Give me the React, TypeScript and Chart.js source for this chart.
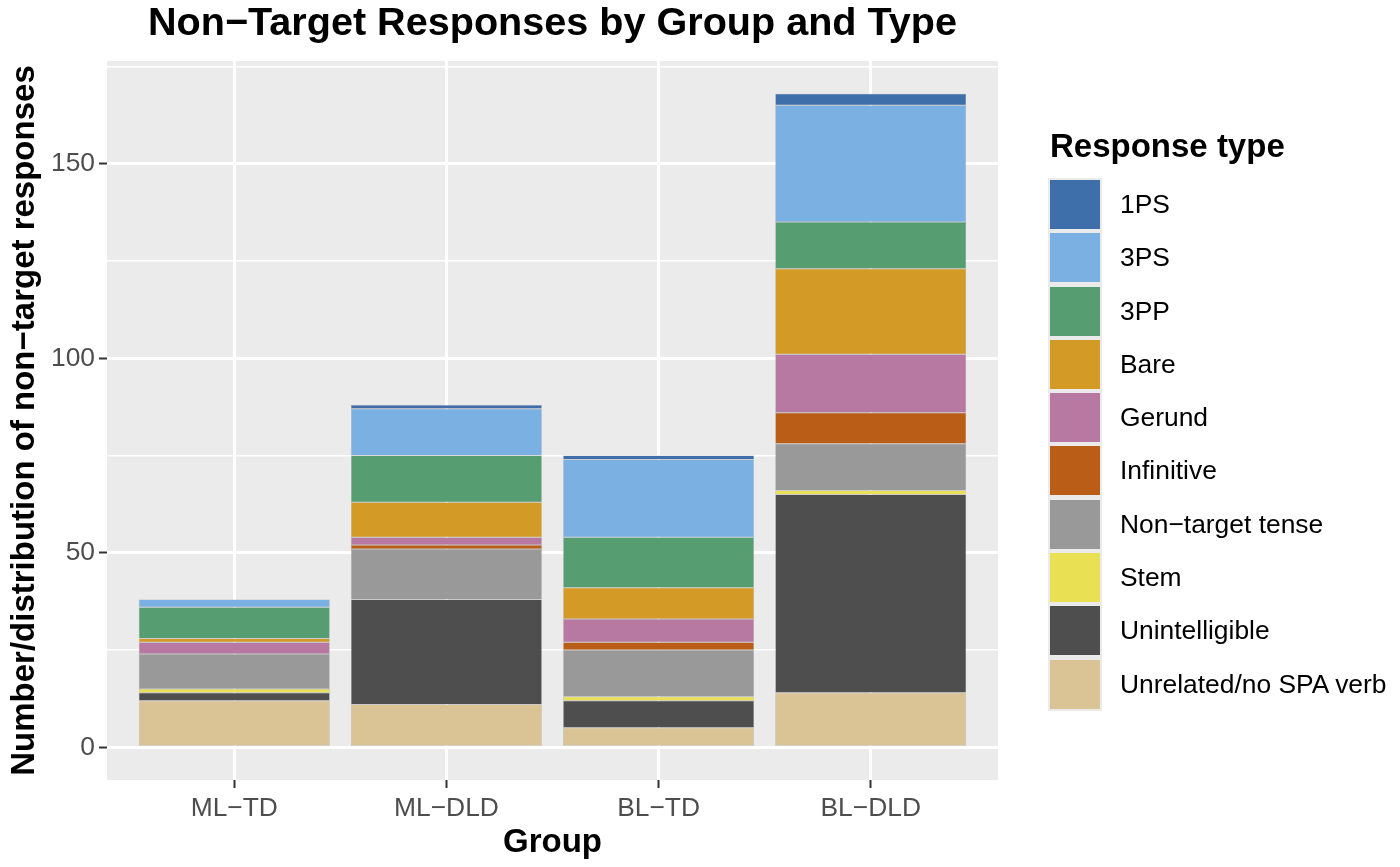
import React, { useEffect, useRef } from "react";
import { Chart, registerables } from "chart.js";

Chart.register(...registerables);

// ---- Data ----
const groups = ["ML−TD", "ML−DLD", "BL−TD", "BL−DLD"];
const groupPositions = [1, 2, 3, 4];

// stacked bottom -> top
const unrelated = [12, 11, 5, 14];
const unintelligible = [2, 27, 7, 51];
const stem = [1, 0, 1, 1];
const nonTargetTense = [9, 13, 12, 12];
const infinitive = [0, 1, 2, 8];
const gerund = [3, 2, 6, 15];
const bare = [1, 9, 8, 22];
const threePP = [8, 12, 13, 12];
const threePS = [2, 12, 20, 30];
const onePS = [0, 1, 1, 3];

const seriesNames = [
  "Unrelated/no SPA verb",
  "Unintelligible",
  "Stem",
  "Non−target tense",
  "Infinitive",
  "Gerund",
  "Bare",
  "3PP",
  "3PS",
  "1PS",
];
const seriesValues = [
  unrelated,
  unintelligible,
  stem,
  nonTargetTense,
  infinitive,
  gerund,
  bare,
  threePP,
  threePS,
  onePS,
];
const seriesColors = [
  "#DAC394",
  "#4E4E4E",
  "#E9E053",
  "#999999",
  "#BA5D16",
  "#B779A2",
  "#D39B25",
  "#579D72",
  "#7BB0E3",
  "#3F6FAA",
];

const yMajorTicks = [0, 50, 100, 150];
const yMinorTicks = [25, 75, 125, 175];

const FONT = "'Liberation Sans', Arial, Helvetica, sans-serif";

const panelBg = {
  id: "panelBg",
  beforeDraw(chart: any) {
    const { ctx, chartArea } = chart;
    ctx.save();
    ctx.fillStyle = "#EBEBEB";
    ctx.fillRect(
      chartArea.left,
      chartArea.top,
      chartArea.right - chartArea.left,
      chartArea.bottom - chartArea.top
    );
    ctx.restore();
  },
};

export default function App() {
  const ref = useRef<HTMLCanvasElement | null>(null);

  useEffect(() => {
    if (!ref.current) return;
    const datasets = seriesNames.map((name, i) => ({
      label: name,
      data: groupPositions.map((x, j) => ({ x, y: seriesValues[i][j] })),
      backgroundColor: seriesColors[i],
      borderColor: "rgba(110,110,110,0.5)",
      borderWidth: 0.5,
      borderSkipped: false,
      categoryPercentage: 1,
      barPercentage: 0.9,
    }));

    const allY = [...yMajorTicks, ...yMinorTicks].sort((a, b) => a - b);

    const chart = new Chart(ref.current, {
      type: "bar",
      data: { datasets },
      plugins: [panelBg],
      options: {
        animation: false,
        responsive: false,
        devicePixelRatio: 1,
        layout: { padding: { left: 0, top: 0, right: 402, bottom: 0 } },
        plugins: {
          legend: { display: false },
          tooltip: { enabled: false },
          title: {
            display: true,
            text: "Non−Target Responses by Group and Type",
            fullSize: false,
            color: "#000000",
            font: { family: FONT, size: 39.6, weight: "bold" },
            padding: { top: 0, bottom: 13.5 },
          },
        },
        scales: {
          x: {
            type: "linear",
            stacked: true,
            offset: false,
            min: 0.4,
            max: 4.6,
            afterBuildTicks: (scale: any) => {
              scale.ticks = groupPositions.map((v) => ({ value: v }));
            },
            afterFit: (scale: any) => {
              scale.height = 87;
            },
            ticks: {
              autoSkip: false,
              maxRotation: 0,
              color: "#4D4D4D",
              font: { family: FONT, size: 26.4 },
              padding: 5,
              callback: (v: any) => groups[Math.round(Number(v)) - 1] ?? "",
            },
            grid: {
              offset: false,
              color: "#FFFFFF",
              lineWidth: 3,
              tickColor: "#333333",
              tickWidth: 2,
              tickLength: 8,
            },
            border: { display: false },
            title: {
              display: true,
              text: "Group",
              color: "#000000",
              font: { family: FONT, size: 33, weight: "bold" },
              padding: 4,
            },
          },
          y: {
            type: "linear",
            stacked: true,
            min: -8.4,
            max: 176.4,
            afterBuildTicks: (scale: any) => {
              scale.ticks = allY.map((v) => ({ value: v }));
            },
            afterFit: (scale: any) => {
              scale.width = 107;
            },
            ticks: {
              autoSkip: false,
              color: "#4D4D4D",
              font: { family: FONT, size: 26.4 },
              padding: 4,
              callback: (v: any) =>
                yMajorTicks.includes(Number(v)) ? String(v) : "",
            },
            grid: {
              color: "#FFFFFF",
              lineWidth: (ctx: any) =>
                yMajorTicks.includes(ctx.tick?.value) ? 3 : 1.5,
              tickColor: (ctx: any) =>
                yMajorTicks.includes(ctx.tick?.value) ? "#333333" : "rgba(0,0,0,0)",
              tickWidth: 2,
              tickLength: 8,
            },
            border: { display: false },
            title: {
              display: true,
              text: "Number/distribution of non−target responses",
              color: "#000000",
              font: { family: FONT, size: 33, weight: "bold" },
              padding: 5,
            },
          },
        },
      } as any,
    });
    return () => chart.destroy();
  }, []);

  const legendItems = seriesNames
    .map((n, i) => ({ name: n, color: seriesColors[i] }))
    .reverse();

  return (
    <div
      style={{
        position: "absolute",
        left: 0,
        top: 0,
        width: 1400,
        height: 867,
        background: "#FFFFFF",
        fontFamily: FONT,
      }}
    >
      <canvas ref={ref} width={1400} height={867} style={{ display: "block" }} />
      <div
        style={{
          position: "absolute",
          left: 1050,
          top: 127,
          fontSize: 33,
          fontWeight: "bold",
          color: "#000",
          lineHeight: "38px",
          whiteSpace: "nowrap",
        }}
      >
        Response type
      </div>
      <div style={{ position: "absolute", left: 1048, top: 177.8 }}>
        {legendItems.map((it) => (
          <div
            key={it.name}
            style={{ display: "flex", alignItems: "center", height: 53.3 }}
          >
            <div
              style={{
                width: 54,
                height: 53.3,
                background: "#EBEBEB",
                boxSizing: "border-box",
                padding: 2.2,
              }}
            >
              <div style={{ width: "100%", height: "100%", background: it.color }} />
            </div>
            <div
              style={{
                marginLeft: 18,
                fontSize: 26.4,
                color: "#000",
                whiteSpace: "nowrap",
              }}
            >
              {it.name}
            </div>
          </div>
        ))}
      </div>
    </div>
  );
}
